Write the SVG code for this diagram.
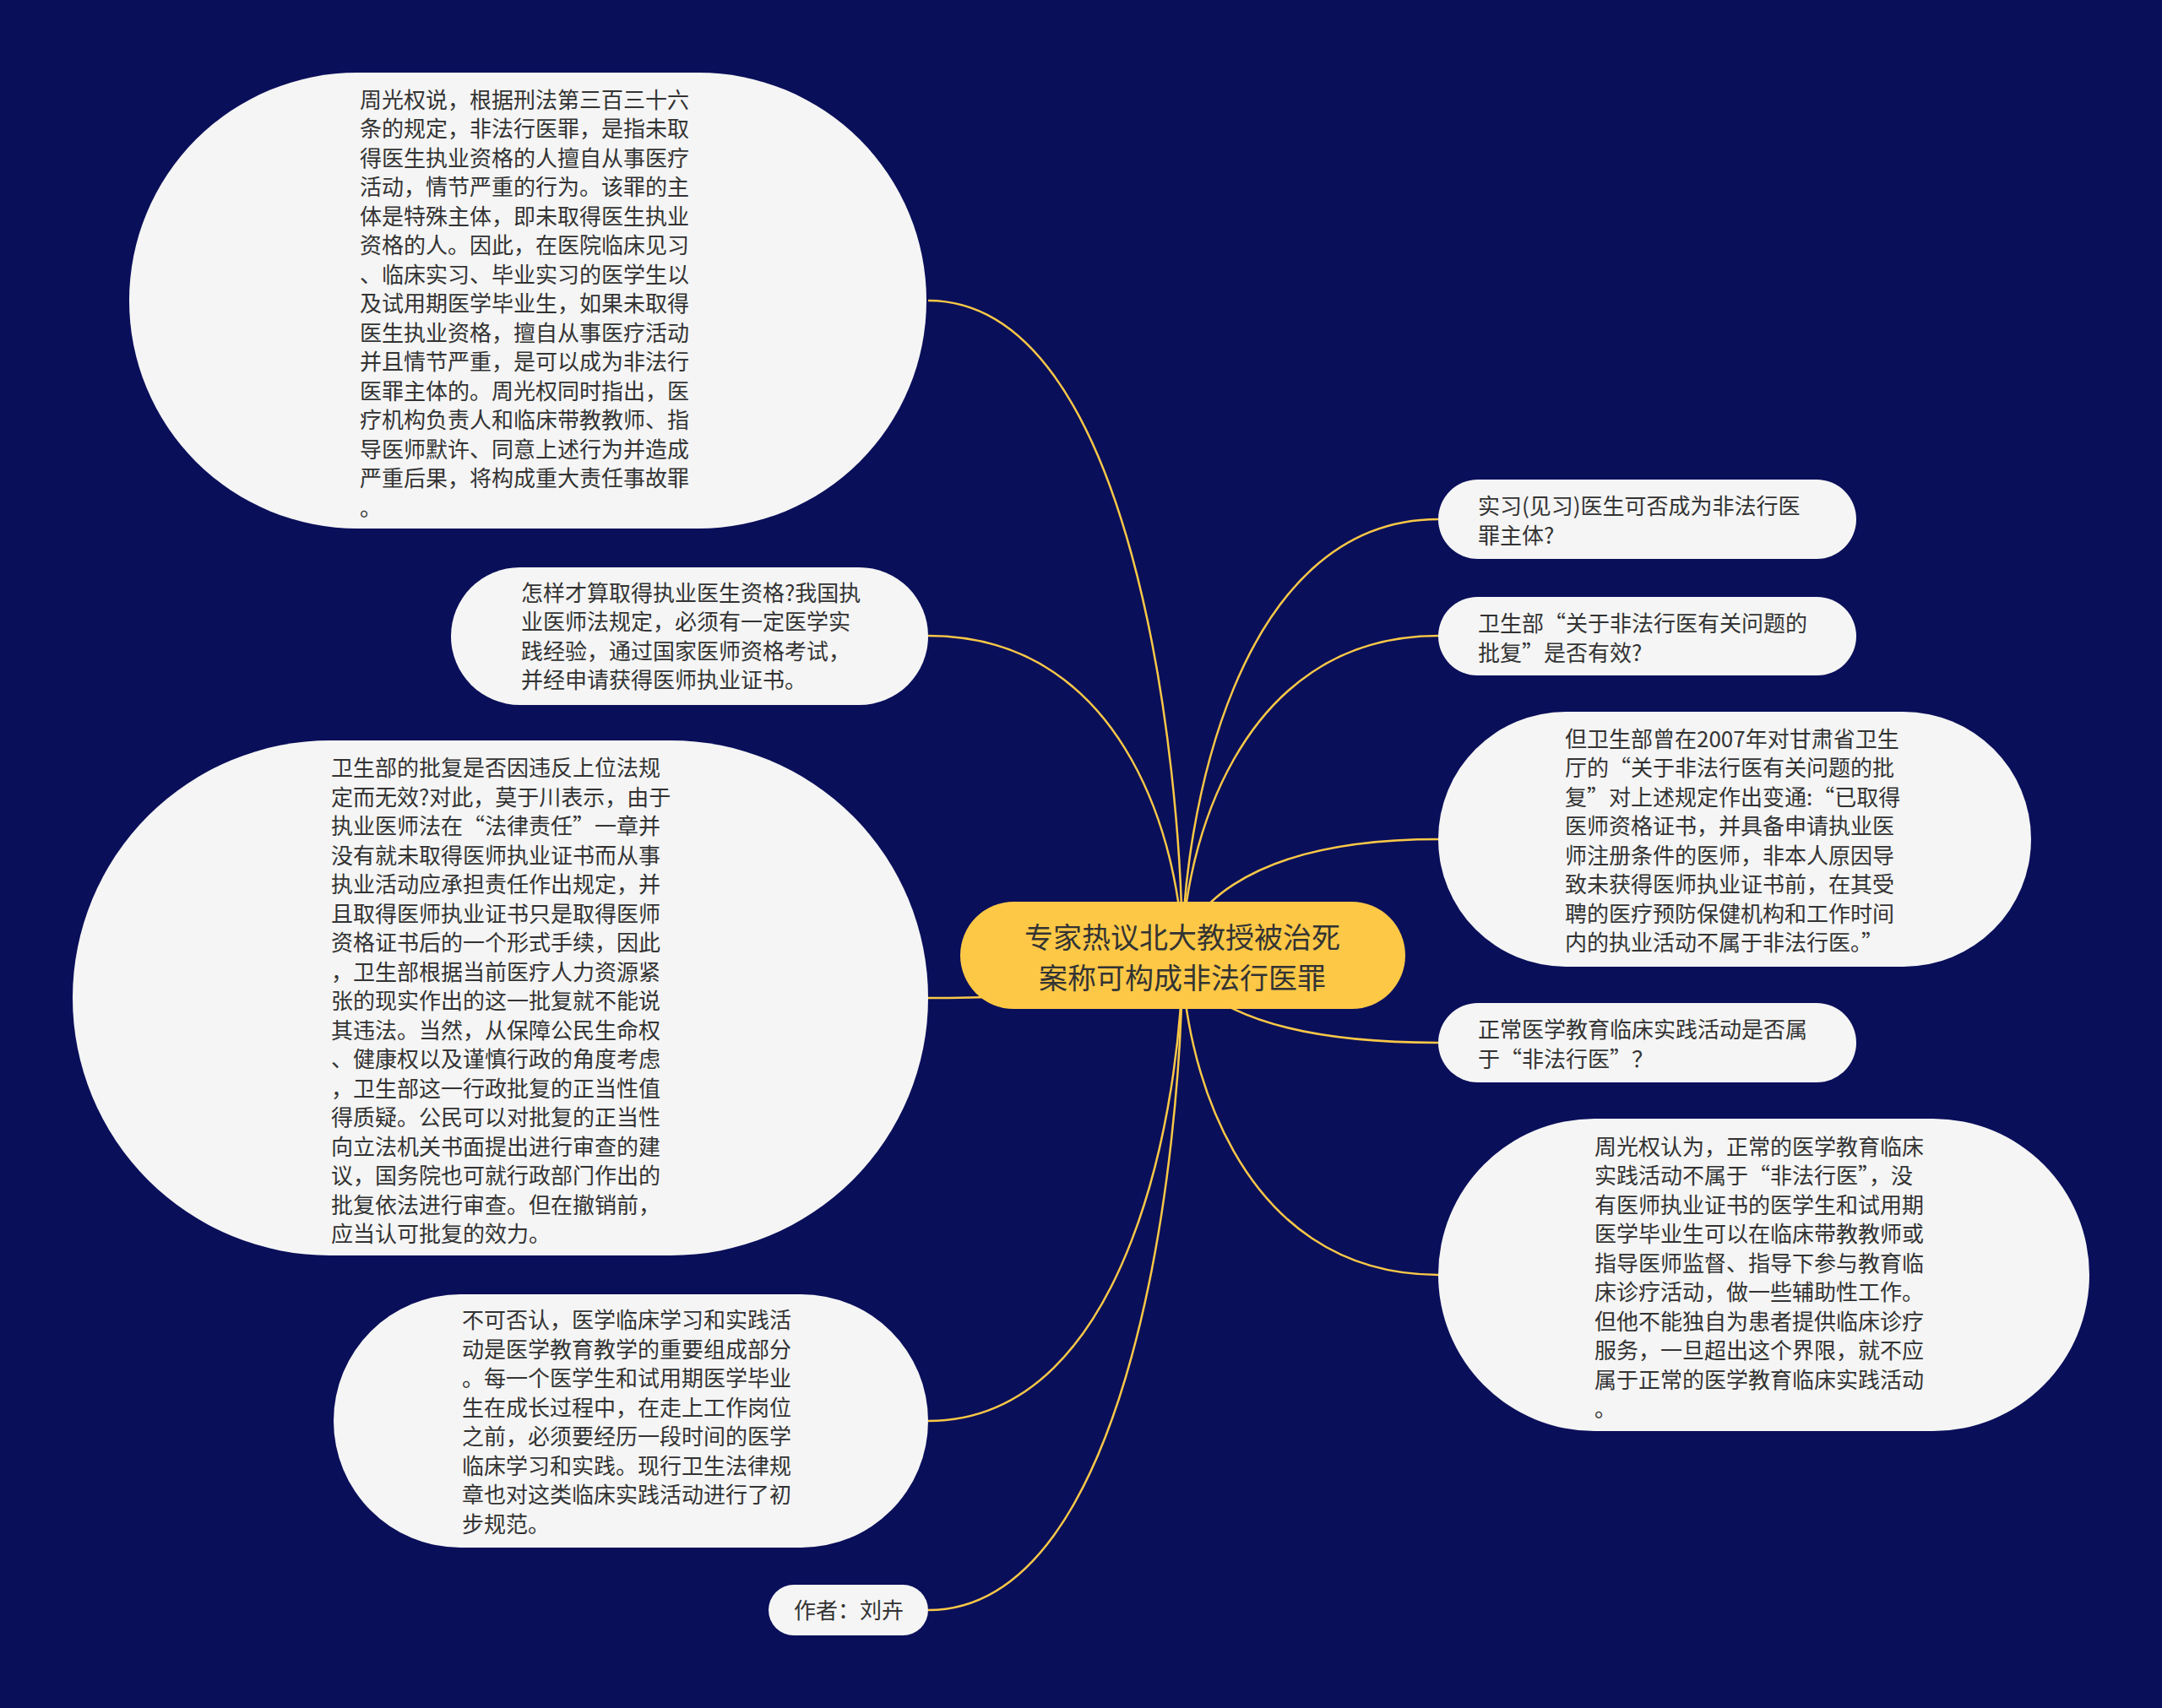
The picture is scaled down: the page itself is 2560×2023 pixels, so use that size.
<svg xmlns="http://www.w3.org/2000/svg" width="2560" height="2023" viewBox="0 0 2560 2023">
<style>
.bg{fill:#0a0f5a}
.link{fill:none;stroke:#f9c847;stroke-width:2.5}
.box{fill:#f5f5f5}
.root{fill:#fdc846}
.t{font-family:"Noto Sans CJK SC","Noto Sans",sans-serif;font-size:26px;fill:#333333}
.rt{font-family:"Noto Sans CJK SC","Noto Sans",sans-serif;font-size:34px;fill:#333333;text-anchor:middle}
</style>
<rect class="bg" x="0" y="0" width="2560" height="2023"/>
<g id="connectors">
<path class="link" d="M1099 356 C1340 356 1400 899 1400 1132"/>
<path class="link" d="M1099 753 C1340 753 1400 1018 1400 1132"/>
<path class="link" d="M1099 1182 C1340 1182 1400 1147 1400 1132"/>
<path class="link" d="M1099 1683 C1340 1683 1400 1297 1400 1132"/>
<path class="link" d="M1099 1907 C1340 1907 1400 1365 1400 1132"/>
<path class="link" d="M1703 615 C1461 615 1400 977 1400 1132"/>
<path class="link" d="M1703 753 C1461 753 1400 1018 1400 1132"/>
<path class="link" d="M1703 994 C1461 994 1400 1091 1400 1132"/>
<path class="link" d="M1703 1235 C1461 1235 1400 1163 1400 1132"/>
<path class="link" d="M1703 1510 C1461 1510 1400 1245 1400 1132"/>
</g>
<g id="root">
<rect class="root" x="1137" y="1068" width="527" height="127" rx="63.5"/>
<text class="rt" lang="zh-CN"><tspan x="1400" y="1123">专家热议北大教授被治死</tspan><tspan x="1400" y="1171">案称可构成非法行医罪</tspan></text>
</g>
<g id="node-left-1">
<rect class="box" x="153" y="86" width="944" height="540" rx="270"/>
<text class="t" lang="zh-CN" x="426" y="127.5"><tspan x="426" dy="0">周光权说，根据刑法第三百三十六</tspan><tspan x="426" dy="34.5">条的规定，非法行医罪，是指未取</tspan><tspan x="426" dy="34.5">得医生执业资格的人擅自从事医疗</tspan><tspan x="426" dy="34.5">活动，情节严重的行为。该罪的主</tspan><tspan x="426" dy="34.5">体是特殊主体，即未取得医生执业</tspan><tspan x="426" dy="34.5">资格的人。因此，在医院临床见习</tspan><tspan x="426" dy="34.5">、临床实习、毕业实习的医学生以</tspan><tspan x="426" dy="34.5">及试用期医学毕业生，如果未取得</tspan><tspan x="426" dy="34.5">医生执业资格，擅自从事医疗活动</tspan><tspan x="426" dy="34.5">并且情节严重，是可以成为非法行</tspan><tspan x="426" dy="34.5">医罪主体的。周光权同时指出，医</tspan><tspan x="426" dy="34.5">疗机构负责人和临床带教教师、指</tspan><tspan x="426" dy="34.5">导医师默许、同意上述行为并造成</tspan><tspan x="426" dy="34.5">严重后果，将构成重大责任事故罪</tspan><tspan x="426" dy="34.5">。</tspan></text>
</g>
<g id="node-left-2">
<rect class="box" x="534" y="672" width="565" height="163" rx="81.5"/>
<text class="t" lang="zh-CN" x="617" y="711.5"><tspan x="617" dy="0">怎样才算取得执业医生资格?我国执</tspan><tspan x="617" dy="34.5">业医师法规定，必须有一定医学实</tspan><tspan x="617" dy="34.5">践经验，通过国家医师资格考试，</tspan><tspan x="617" dy="34.5">并经申请获得医师执业证书。</tspan></text>
</g>
<g id="node-left-3">
<rect class="box" x="86" y="877" width="1013" height="610" rx="305"/>
<text class="t" lang="zh-CN" x="392" y="919"><tspan x="392" dy="0">卫生部的批复是否因违反上位法规</tspan><tspan x="392" dy="34.5">定而无效?对此，莫于川表示，由于</tspan><tspan x="392" dy="34.5">执业医师法在“法律责任”一章并</tspan><tspan x="392" dy="34.5">没有就未取得医师执业证书而从事</tspan><tspan x="392" dy="34.5">执业活动应承担责任作出规定，并</tspan><tspan x="392" dy="34.5">且取得医师执业证书只是取得医师</tspan><tspan x="392" dy="34.5">资格证书后的一个形式手续，因此</tspan><tspan x="392" dy="34.5">，卫生部根据当前医疗人力资源紧</tspan><tspan x="392" dy="34.5">张的现实作出的这一批复就不能说</tspan><tspan x="392" dy="34.5">其违法。当然，从保障公民生命权</tspan><tspan x="392" dy="34.5">、健康权以及谨慎行政的角度考虑</tspan><tspan x="392" dy="34.5">，卫生部这一行政批复的正当性值</tspan><tspan x="392" dy="34.5">得质疑。公民可以对批复的正当性</tspan><tspan x="392" dy="34.5">向立法机关书面提出进行审查的建</tspan><tspan x="392" dy="34.5">议，国务院也可就行政部门作出的</tspan><tspan x="392" dy="34.5">批复依法进行审查。但在撤销前，</tspan><tspan x="392" dy="34.5">应当认可批复的效力。</tspan></text>
</g>
<g id="node-left-4">
<rect class="box" x="395" y="1533" width="704" height="300" rx="150"/>
<text class="t" lang="zh-CN" x="547" y="1573"><tspan x="547" dy="0">不可否认，医学临床学习和实践活</tspan><tspan x="547" dy="34.5">动是医学教育教学的重要组成部分</tspan><tspan x="547" dy="34.5">。每一个医学生和试用期医学毕业</tspan><tspan x="547" dy="34.5">生在成长过程中，在走上工作岗位</tspan><tspan x="547" dy="34.5">之前，必须要经历一段时间的医学</tspan><tspan x="547" dy="34.5">临床学习和实践。现行卫生法律规</tspan><tspan x="547" dy="34.5">章也对这类临床实践活动进行了初</tspan><tspan x="547" dy="34.5">步规范。</tspan></text>
</g>
<g id="node-left-5">
<rect class="box" x="910" y="1877" width="189" height="60" rx="30"/>
<text class="t" lang="zh-CN" x="940" y="1917">作者：刘卉</text>
</g>
<g id="node-right-1">
<rect class="box" x="1703" y="568" width="495" height="94" rx="47"/>
<text class="t" lang="zh-CN" x="1750" y="609"><tspan x="1750" dy="0">实习(见习)医生可否成为非法行医</tspan><tspan x="1750" dy="34.5">罪主体?</tspan></text>
</g>
<g id="node-right-2">
<rect class="box" x="1703" y="707" width="495" height="93" rx="46.5"/>
<text class="t" lang="zh-CN" x="1750" y="748"><tspan x="1750" dy="0">卫生部“关于非法行医有关问题的</tspan><tspan x="1750" dy="34.5">批复”是否有效?</tspan></text>
</g>
<g id="node-right-3">
<rect class="box" x="1703" y="843" width="702" height="302" rx="151"/>
<text class="t" lang="zh-CN" x="1853" y="884.5"><tspan x="1853" dy="0">但卫生部曾在2007年对甘肃省卫生</tspan><tspan x="1853" dy="34.5">厅的“关于非法行医有关问题的批</tspan><tspan x="1853" dy="34.5">复”对上述规定作出变通:“已取得</tspan><tspan x="1853" dy="34.5">医师资格证书，并具备申请执业医</tspan><tspan x="1853" dy="34.5">师注册条件的医师，非本人原因导</tspan><tspan x="1853" dy="34.5">致未获得医师执业证书前，在其受</tspan><tspan x="1853" dy="34.5">聘的医疗预防保健机构和工作时间</tspan><tspan x="1853" dy="34.5">内的执业活动不属于非法行医。”</tspan></text>
</g>
<g id="node-right-4">
<rect class="box" x="1703" y="1188" width="495" height="94" rx="47"/>
<text class="t" lang="zh-CN" x="1750" y="1229"><tspan x="1750" dy="0">正常医学教育临床实践活动是否属</tspan><tspan x="1750" dy="34.5">于“非法行医”？</tspan></text>
</g>
<g id="node-right-5">
<rect class="box" x="1703" y="1325" width="771" height="370" rx="185"/>
<text class="t" lang="zh-CN" x="1888" y="1367.5"><tspan x="1888" dy="0">周光权认为，正常的医学教育临床</tspan><tspan x="1888" dy="34.5">实践活动不属于“非法行医”，没</tspan><tspan x="1888" dy="34.5">有医师执业证书的医学生和试用期</tspan><tspan x="1888" dy="34.5">医学毕业生可以在临床带教教师或</tspan><tspan x="1888" dy="34.5">指导医师监督、指导下参与教育临</tspan><tspan x="1888" dy="34.5">床诊疗活动，做一些辅助性工作。</tspan><tspan x="1888" dy="34.5">但他不能独自为患者提供临床诊疗</tspan><tspan x="1888" dy="34.5">服务，一旦超出这个界限，就不应</tspan><tspan x="1888" dy="34.5">属于正常的医学教育临床实践活动</tspan><tspan x="1888" dy="34.5">。</tspan></text>
</g>
</svg>
